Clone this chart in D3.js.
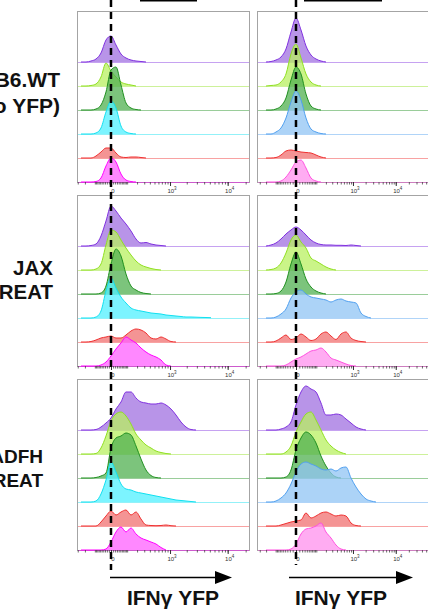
<!DOCTYPE html>
<html>
<head>
<meta charset="utf-8">
<script src="https://cdnjs.cloudflare.com/ajax/libs/d3/7.8.5/d3.min.js"></script>
<style>
  body { margin: 0; background: #fff; }
  svg { display: block; }
</style>
</head>
<body>
<svg id="chart"></svg>
<script>
(function IfnyHistogramOverlay() {

  //--------------------------------------------------
  // data (histogram heights, one list per track, bins start left of 0)
  //--------------------------------------------------

  var rowLabels = [['B6.WT', '(no YFP)'], ['JAX', 'GREAT'], ['ADFH', 'GREAT']];
  var axisTitle = 'IFNγ YFP';
  var majorTicks = [0, 1000, 10000];
  var majorTickLabels = [['0', ''], ['10', '3'], ['10', '4']];
  var minorMultipliers = [1, 2, 3, 4, 5, 6, 7, 8, 9];
  var minorDecades = [10, 100, 1000, 10000];

  var b6WtLeft = [
    [0, 0, 1, 3, 9, 22, 26, 17, 8, 4, 2, 1, 0.5, 0],
    [0, 0, 0.5, 2, 9, 23, 15, 9, 4, 2, 1, 0],
    [0, 0, 0, 1, 5, 18, 40, 43, 25, 7, 2, 0.5, 0],
    [0, 0, 0, 1, 6, 22, 33, 26, 8, 2, 0.5, 0],
    [0, 0, 0, 2, 6, 10, 10, 5, 1, 0.5, 1, 1, 0.5, 0],
    [0, 0, 0, 0.5, 4, 16, 24, 20, 8, 2, 0.5, 0]
  ];
  var b6WtRight = [
    [0, 0.5, 2, 5, 13, 30, 44, 32, 16, 7, 3, 1, 0],
    [0, 0.5, 1, 4, 12, 32, 42, 28, 12, 4, 1, 0],
    [0, 0, 1, 4, 12, 30, 43, 36, 16, 4, 1, 0],
    [0, 0, 2, 6, 16, 32, 43, 34, 16, 5, 2, 0.5, 0],
    [0, 0, 0.5, 3, 7, 8, 7, 6, 5.5, 5, 3, 1, 0],
    [0, 0, 0, 1, 5, 12, 20, 22, 14, 4, 1, 0]
  ];
  var jaxLeft = [
    [0, 0, 0.5, 2, 10, 25, 40, 35, 28, 22, 15, 7, 3, 3.5, 2, 1, 0.5, 0],
    [0, 0, 0, 1, 6, 25, 40, 38, 30, 22, 15, 9, 5, 3, 1.5, 0.5, 0],
    [0, 0, 0, 0, 1, 8, 30, 45, 38, 20, 8, 4, 1.5, 0.5, 0],
    [0, 0, 0, 1, 7, 27, 40, 30, 21, 15, 10, 8, 7, 6, 5, 4.5, 4, 3, 2.5, 2, 1.5, 1, 1, 0.8, 0.6, 0.5, 0.3],
    [0, 0, 0.5, 2, 4, 5, 6, 4, 4, 7, 11, 13, 12, 9, 4, 3, 5, 3, 0.5, 0],
    [0, 0, 0, 0, 1, 4, 10, 17, 23, 29, 26, 23, 18, 14, 11, 9, 6, 1, 0]
  ];
  var jaxRight = [
    [0, 1, 3, 7, 12, 16, 19, 16, 11, 6, 3, 1.5, 1, 1, 0.7, 0.7, 0.5, 1, 0.5, 0],
    [0, 0.5, 2, 7, 17, 30, 35, 28, 22, 12, 9, 6, 3, 1, 0],
    [0, 0, 0.5, 3, 12, 30, 42, 30, 15, 7, 3, 1, 0],
    [0, 0, 1, 4, 9, 20, 26, 28, 24, 21, 20, 19, 18, 16, 18, 19, 17, 16, 15, 5, 1.5, 0],
    [0, 0, 1, 4, 7, 2.5, 4, 8, 5, 1.5, 3, 8, 10, 6, 2.5, 8, 10, 4, 1.5, 0.5, 0],
    [0, 0, 0, 0, 1, 4, 7, 9, 12, 15, 16, 18, 14, 8, 6, 4, 2, 0.5, 0]
  ];
  var adfhLeft = [
    [0, 0, 0, 0.5, 3, 7, 12, 21, 28, 38, 38, 32, 28, 27, 26, 26, 27, 25, 21, 15, 8, 3, 0.5, 0],
    [0, 0, 0, 0.5, 6, 18, 33, 40, 42, 38, 30, 20, 14, 9, 6, 3, 1.5, 0.5, 0],
    [0, 0, 0, 0.5, 2, 5, 30, 40, 42, 45, 43, 32, 19, 8, 2.5, 0.5, 0],
    [0, 0, 0, 1, 8, 22, 40, 30, 18, 13, 12, 10, 9, 8, 7, 6, 5, 4, 3, 2, 1.5, 1, 0.5, 0],
    [0, 0, 0, 0, 4, 10, 15, 11, 14, 16, 11, 14, 7, 1, 0.5, 0.3, 0.5, 1, 0.3, 0],
    [0, 0, 0, 0, 0, 1, 8, 18, 23, 18, 22, 16, 12, 10, 8, 6, 2.5, 0]
  ];
  var adfhRight = [
    [0, 0, 0, 1, 3, 8, 25, 38, 44, 41, 38, 27, 15, 15, 16, 15, 11, 7, 3, 1, 0],
    [0, 0, 0, 0, 2, 8, 22, 32, 40, 42, 34, 24, 14, 8, 4, 1.5, 0],
    [0, 0, 0, 0, 1, 8, 28, 40, 46, 43, 35, 22, 12, 5, 1, 0],
    [0, 0, 1, 4, 9, 18, 30, 38, 40, 38, 36, 33, 32, 33, 31, 34, 35, 24, 15, 8, 3, 1, 0],
    [0, 0, 0, 1, 2.5, 4, 5, 6, 13, 8, 10, 13, 14, 12, 10, 11, 10, 3, 0.5, 0],
    [0, 0, 0, 0, 0, 1, 6, 16, 21, 22, 24, 27, 18, 12, 5, 1, 0]
  ];

  var panelData = [[b6WtLeft, b6WtRight], [jaxLeft, jaxRight], [adfhLeft, adfhRight]];

  //--------------------------------------------------
  // layout + styles
  //--------------------------------------------------

  var width = 428,
    height = 612,
    panelHeight = 171,
    firstBaseline = 51,
    trackGap = 24,
    binStart = -30,
    binStep = 5;

  var paletteLeft = [
    {fill: '#a070e0', stroke: '#8030e0'},
    {fill: '#b8f060', stroke: '#90e020'},
    {fill: '#50b050', stroke: '#209020'},
    {fill: '#50f0ff', stroke: '#10e0f0'},
    {fill: '#f07070', stroke: '#f03030'},
    {fill: '#ff60ff', stroke: '#ff00ff'}
  ];
  var paletteRight = [
    {fill: '#a070e0', stroke: '#8030e0'},
    {fill: '#b8f060', stroke: '#90e020'},
    {fill: '#50b050', stroke: '#209020'},
    {fill: '#90c4f4', stroke: '#50a0f0'},
    {fill: '#f07070', stroke: '#f03030'},
    {fill: '#ff90ee', stroke: '#ff50e0'}
  ];

  var columns = [
    {left: 77, right: 249, constant: 117, domain: [-312, 22745], palette: paletteLeft,
      dashEnd: 570, arrow: [110, 232], titleX: 173, bar: [140, 197]},
    {left: 257, right: 440, constant: 52, domain: [-355, 103800], palette: paletteRight,
      dashEnd: 565, arrow: [289, 413], titleX: 341, bar: [304, 382]}
  ];
  var rowTops = [11, 195, 379];
  var labelRight = [60, 53, 43];
  var labelSize = [21, 20.5, 19];
  var labelBaselines = [[87, 113], [275, 299], [463, 487]];

  var svg = d3.select('#chart')
    .attr('width', width)
    .attr('height', height);

  columns.forEach(function(col) {
    col.x = d3.scaleSymlog()
      .constant(col.constant)
      .domain(col.domain)
      .range([col.left, col.right]);
  });

  var minorTicks = [];
  minorDecades.forEach(function(dec) {
    minorMultipliers.forEach(function(m) {
      minorTicks.push(m * dec);
      if (dec <= 100) minorTicks.push(-m * dec);
    });
  });

  rowTops.forEach(function(top, r) {
    columns.forEach(function(col, c) {
      drawPanel(col, top, panelData[r][c]);
    });
    drawRowLabel(r);
  });

  columns.forEach(drawColumnExtras);

  //--------------------------------------------------
  //
  //--------------------------------------------------

  function drawPanel(col, top, tracks) {
    var x = col.x;
    var bottom = top + panelHeight;
    var g = svg.append('g');

    g.append('rect')
      .attr('x', col.left + 0.5)
      .attr('y', top + 0.5)
      .attr('width', col.right - col.left)
      .attr('height', panelHeight)
      .attr('fill', 'white')
      .attr('stroke', '#a4a4a4')
      .attr('stroke-width', 1);

    tracks.forEach(function(counts, t) {
      var base = top + firstBaseline + trackGap * t;
      var color = col.palette[t];
      var y = d3.scaleLinear().domain([0, 50]).range([base, base - 50]);

      var pts = counts.map(function(v, i) {
        return {v: x.invert(x(0) + binStart + binStep * i), c: v};
      });

      g.append('line')
        .attr('x1', col.left + 1)
        .attr('x2', col.right)
        .attr('y1', base + 0.5)
        .attr('y2', base + 0.5)
        .attr('stroke', color.stroke)
        .attr('stroke-opacity', 0.45)
        .attr('stroke-width', 1);

      var area = d3.area()
        .x(function(d) { return x(d.v); })
        .y0(base)
        .y1(function(d) { return y(d.c); })
        .curve(d3.curveMonotoneX);

      var outline = d3.line()
        .x(function(d) { return x(d.v); })
        .y(function(d) { return y(d.c); })
        .curve(d3.curveMonotoneX);

      g.append('path')
        .attr('d', area(pts))
        .attr('fill', color.fill)
        .attr('fill-opacity', 0.75);

      g.append('path')
        .attr('d', outline(pts))
        .attr('fill', 'none')
        .attr('stroke', color.stroke)
        .attr('stroke-width', 1);
    });

    // axis ticks
    g.selectAll('.minor')
      .data(minorTicks.filter(function(v) { return v > col.domain[0] && v < col.domain[1]; }))
      .enter().append('line')
      .attr('x1', function(d) { return x(d) + 0.5; })
      .attr('x2', function(d) { return x(d) + 0.5; })
      .attr('y1', bottom)
      .attr('y2', bottom + 2.5)
      .attr('stroke', '#444')
      .attr('stroke-width', 0.8);

    g.selectAll('.major')
      .data(majorTicks)
      .enter().append('line')
      .attr('x1', function(d) { return x(d) + 0.5; })
      .attr('x2', function(d) { return x(d) + 0.5; })
      .attr('y1', bottom)
      .attr('y2', bottom + 4)
      .attr('stroke', '#333')
      .attr('stroke-width', 1);

    var labels = g.selectAll('.tickLabel')
      .data(majorTicks)
      .enter().append('text')
      .attr('x', function(d) { return x(d) + 2; })
      .attr('y', bottom + 11)
      .attr('text-anchor', 'middle')
      .style('font-family', 'Liberation Sans, Arial, sans-serif')
      .style('font-size', '6px')
      .style('fill', '#333');

    labels.append('tspan')
      .text(function(d, i) { return majorTickLabels[i][0]; });
    labels.append('tspan')
      .attr('dy', -3)
      .style('font-size', '4.5px')
      .text(function(d, i) { return majorTickLabels[i][1]; });
  }

  function drawRowLabel(r) {
    rowLabels[r].forEach(function(line, i) {
      svg.append('text')
        .attr('x', labelRight[r])
        .attr('y', labelBaselines[r][i])
        .attr('text-anchor', 'end')
        .style('font-family', 'Liberation Sans, Arial, sans-serif')
        .style('font-weight', 'bold')
        .style('font-size', labelSize[r] + 'px')
        .style('fill', '#111')
        .text(line);
    });
  }

  function drawColumnExtras(col) {
    var x0 = col.x(0);

    svg.append('line')
      .attr('x1', x0)
      .attr('x2', x0)
      .attr('y1', 0)
      .attr('y2', col.dashEnd)
      .attr('stroke', '#000')
      .attr('stroke-width', 2.5)
      .attr('stroke-dasharray', '7,5');

    svg.append('line')
      .attr('x1', col.bar[0])
      .attr('x2', col.bar[1])
      .attr('y1', 0.5)
      .attr('y2', 0.5)
      .attr('stroke', '#000')
      .attr('stroke-width', 2);

    var ay = 577.5;
    svg.append('line')
      .attr('x1', col.arrow[0])
      .attr('x2', col.arrow[1] - 14)
      .attr('y1', ay)
      .attr('y2', ay)
      .attr('stroke', '#000')
      .attr('stroke-width', 1.5);

    svg.append('path')
      .attr('d', 'M' + (col.arrow[1] - 17) + ',' + (ay - 6.5) +
        'L' + col.arrow[1] + ',' + ay +
        'L' + (col.arrow[1] - 17) + ',' + (ay + 6.5) + 'Z')
      .attr('fill', '#000');

    svg.append('text')
      .attr('x', col.titleX)
      .attr('y', 605)
      .attr('text-anchor', 'middle')
      .style('font-family', 'Liberation Sans, Arial, sans-serif')
      .style('font-weight', 'bold')
      .style('font-size', '21px')
      .style('fill', '#111')
      .text(axisTitle);
  }

})();
</script>
</body>
</html>
